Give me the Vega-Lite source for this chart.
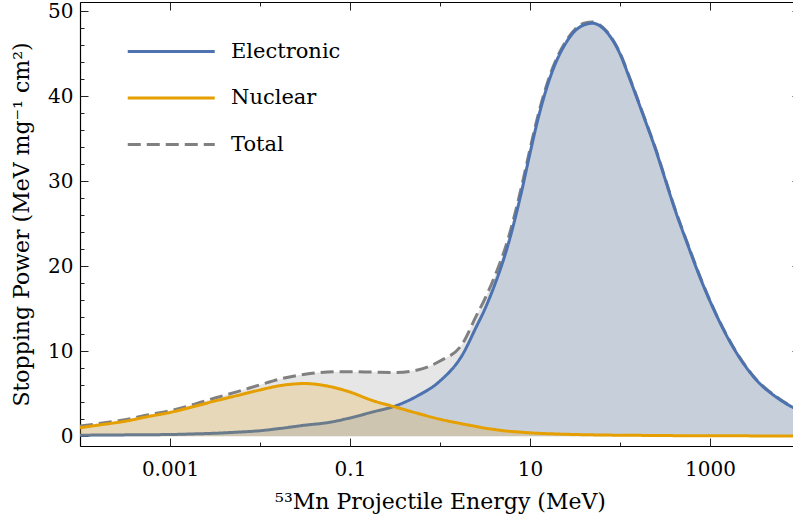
{
  "$schema": "https://vega.github.io/schema/vega-lite/v6.json",
  "autosize": {"type": "none"},
  "padding": {"left": 80, "top": 2, "right": 0, "bottom": 76},
  "width": 720,
  "height": 444,
  "background": "white",
  "config": {
    "view": {"stroke": null},
    "axis": {"grid": false, "labelFont": "DejaVu Serif", "titleFont": "DejaVu Serif", "labelColor": "black", "titleColor": "black", "titleFontWeight": "normal", "labelFlush": false, "labelOverlap": false, "labelBound": false, "domainColor": "black", "domainWidth": 1.2, "tickColor": "#222", "tickWidth": 1},
    "legend": {"orient": "none", "legendX": 46, "legendY": 26, "symbolType": "M-1,0H3", "symbolSize": 1892, "symbolStrokeWidth": 3, "labelFont": "DejaVu Serif", "labelFontSize": 21, "labelColor": "black", "labelOffset": 58, "rowPadding": 12.5, "padding": 0, "title": null}
  },
  "data": {"values": [
    {"E": 0.0001, "Electronic": 0.12, "Nuclear": 1.0, "Total": 1.2},
    {"E": 0.000177828, "Electronic": 0.14, "Nuclear": 1.38, "Total": 1.55},
    {"E": 0.000316228, "Electronic": 0.16, "Nuclear": 1.76, "Total": 1.95},
    {"E": 0.000562341, "Electronic": 0.18, "Nuclear": 2.3, "Total": 2.5},
    {"E": 0.001, "Electronic": 0.2, "Nuclear": 2.8, "Total": 3.0},
    {"E": 0.00177828, "Electronic": 0.27, "Nuclear": 3.45, "Total": 3.7},
    {"E": 0.00316228, "Electronic": 0.35, "Nuclear": 4.15, "Total": 4.5},
    {"E": 0.00562341, "Electronic": 0.48, "Nuclear": 4.8, "Total": 5.25},
    {"E": 0.01, "Electronic": 0.65, "Nuclear": 5.45, "Total": 6.05},
    {"E": 0.0177828, "Electronic": 0.95, "Nuclear": 6.0, "Total": 6.8},
    {"E": 0.0316228, "Electronic": 1.3, "Nuclear": 6.2, "Total": 7.3},
    {"E": 0.0562341, "Electronic": 1.6, "Nuclear": 5.9, "Total": 7.55},
    {"E": 0.1, "Electronic": 2.15, "Nuclear": 5.2, "Total": 7.6},
    {"E": 0.177828, "Electronic": 2.85, "Nuclear": 4.2, "Total": 7.55},
    {"E": 0.316228, "Electronic": 3.55, "Nuclear": 3.45, "Total": 7.5},
    {"E": 0.562341, "Electronic": 4.75, "Nuclear": 2.7, "Total": 7.8},
    {"E": 1, "Electronic": 6.5, "Nuclear": 2.0, "Total": 8.85},
    {"E": 1.77828, "Electronic": 9.6, "Nuclear": 1.45, "Total": 10.9},
    {"E": 2.51189, "Electronic": 12.8, "Nuclear": 1.15, "Total": 14.1},
    {"E": 3.16228, "Electronic": 15.0, "Nuclear": 0.95, "Total": 16.2},
    {"E": 3.98107, "Electronic": 17.6, "Nuclear": 0.8, "Total": 18.6},
    {"E": 5.62341, "Electronic": 22.3, "Nuclear": 0.6, "Total": 23.0},
    {"E": 7.94328, "Electronic": 28.5, "Nuclear": 0.48, "Total": 29.1},
    {"E": 10, "Electronic": 33.3, "Nuclear": 0.4, "Total": 33.8},
    {"E": 12.5893, "Electronic": 37.8, "Nuclear": 0.34, "Total": 38.2},
    {"E": 17.7828, "Electronic": 43.0, "Nuclear": 0.28, "Total": 43.3},
    {"E": 25.1189, "Electronic": 46.3, "Nuclear": 0.23, "Total": 46.5},
    {"E": 31.6228, "Electronic": 47.7, "Nuclear": 0.2, "Total": 47.9},
    {"E": 39.8107, "Electronic": 48.4, "Nuclear": 0.18, "Total": 48.6},
    {"E": 50.1187, "Electronic": 48.6, "Nuclear": 0.16, "Total": 48.75},
    {"E": 63.0957, "Electronic": 48.1, "Nuclear": 0.14, "Total": 48.2},
    {"E": 79.4328, "Electronic": 46.9, "Nuclear": 0.13, "Total": 47.0},
    {"E": 100, "Electronic": 45.0, "Nuclear": 0.12, "Total": 45.1},
    {"E": 125.893, "Electronic": 42.3, "Nuclear": 0.11, "Total": 42.4},
    {"E": 177.828, "Electronic": 38.0, "Nuclear": 0.1, "Total": 38.1},
    {"E": 251.189, "Electronic": 33.6, "Nuclear": 0.09, "Total": 33.7},
    {"E": 316.228, "Electronic": 30.3, "Nuclear": 0.08, "Total": 30.4},
    {"E": 398.107, "Electronic": 27.0, "Nuclear": 0.07, "Total": 27.1},
    {"E": 562.341, "Electronic": 22.6, "Nuclear": 0.06, "Total": 22.7},
    {"E": 794.328, "Electronic": 18.4, "Nuclear": 0.06, "Total": 18.5},
    {"E": 1000, "Electronic": 15.9, "Nuclear": 0.05, "Total": 15.95},
    {"E": 1778.28, "Electronic": 10.6, "Nuclear": 0.05, "Total": 10.65},
    {"E": 3162.28, "Electronic": 6.8, "Nuclear": 0.04, "Total": 6.85},
    {"E": 5623.41, "Electronic": 4.5, "Nuclear": 0.04, "Total": 4.55},
    {"E": 8317.64, "Electronic": 3.4, "Nuclear": 0.03, "Total": 3.43},
    {"E": 10000, "Electronic": 3.0, "Nuclear": 0.03, "Total": 3.03}
  ]},
  "resolve": {"axis": {"x": "independent", "y": "independent"}},
  "layer": [
    {
      "mark": {"type": "area", "color": "#808080", "opacity": 0.2, "interpolate": "monotone", "clip": true},
      "encoding": {
        "x": {"field": "E", "type": "quantitative", "scale": {"type": "log", "domain": [0.0001, 10000], "nice": false},
          "axis": {"orient": "bottom", "values": [0.001, 0.1, 10, 1000], "format": "~g", "ticks": false, "domain": true, "labelFontSize": 20, "labelPadding": 13, "title": "⁵³Mn Projectile Energy (MeV)", "titleFontSize": 22, "titlePadding": 12}},
        "y": {"field": "Total", "type": "quantitative", "scale": {"domain": [-1.15, 51.1], "nice": false, "zero": false},
          "axis": {"orient": "left", "values": [0, 10, 20, 30, 40, 50], "ticks": false, "domain": true, "labelFontSize": 20, "labelPadding": 7, "title": "Stopping Power (MeV mg⁻¹ cm²)", "titleFontSize": 22, "titlePadding": 14}}
      }
    },
    {
      "mark": {"type": "line", "strokeWidth": 3, "interpolate": "monotone", "clip": true},
      "encoding": {
        "x": {"field": "E", "type": "quantitative", "axis": null},
        "y": {"field": "Total", "type": "quantitative", "axis": null},
        "color": {"datum": "Total", "type": "nominal", "scale": {"domain": ["Electronic", "Nuclear", "Total"], "range": ["#4C72B0", "#E69F00", "#808080"]}},
        "strokeDash": {"datum": "Total", "type": "nominal", "scale": {"domain": ["Electronic", "Nuclear", "Total"], "range": [[1, 0], [1, 0], [13, 6]]}}
      }
    },
    {
      "mark": {"type": "area", "color": "#4C72B0", "opacity": 0.2, "interpolate": "monotone", "clip": true},
      "encoding": {
        "x": {"field": "E", "type": "quantitative", "axis": {"orient": "bottom", "values": [0.001, 0.1, 10, 1000], "labels": false, "domain": false, "ticks": true, "tickSize": -8, "title": null}},
        "y": {"field": "Electronic", "type": "quantitative", "axis": {"orient": "left", "values": [0, 10, 20, 30, 40, 50], "labels": false, "domain": false, "ticks": true, "tickSize": -8, "title": null}}
      }
    },
    {
      "mark": {"type": "line", "strokeWidth": 3, "interpolate": "monotone", "clip": true},
      "encoding": {
        "x": {"field": "E", "type": "quantitative", "axis": {"orient": "bottom", "values": [0.0001, 0.01, 1, 100, 10000], "labels": false, "domain": false, "ticks": true, "tickSize": -4, "title": null}},
        "y": {"field": "Electronic", "type": "quantitative", "axis": {"orient": "left", "values": [2, 4, 6, 8, 12, 14, 16, 18, 22, 24, 26, 28, 32, 34, 36, 38, 42, 44, 46, 48], "labels": false, "domain": false, "ticks": true, "tickSize": -4, "title": null}},
        "color": {"datum": "Electronic", "type": "nominal"},
        "strokeDash": {"datum": "Electronic", "type": "nominal"}
      }
    },
    {
      "mark": {"type": "area", "color": "#E69F00", "opacity": 0.2, "interpolate": "monotone", "clip": true},
      "encoding": {
        "x": {"field": "E", "type": "quantitative", "axis": {"orient": "top", "values": [0.001, 0.1, 10, 1000], "labels": false, "domain": true, "ticks": true, "tickSize": -8, "title": null}},
        "y": {"field": "Nuclear", "type": "quantitative", "axis": {"orient": "right", "values": [0, 10, 20, 30, 40, 50], "labels": false, "domain": true, "ticks": true, "tickSize": -8, "title": null}}
      }
    },
    {
      "mark": {"type": "line", "strokeWidth": 3, "interpolate": "monotone", "clip": true},
      "encoding": {
        "x": {"field": "E", "type": "quantitative", "axis": {"orient": "top", "values": [0.0001, 0.01, 1, 100, 10000], "labels": false, "domain": false, "ticks": true, "tickSize": -4, "title": null}},
        "y": {"field": "Nuclear", "type": "quantitative", "axis": {"orient": "right", "values": [2, 4, 6, 8, 12, 14, 16, 18, 22, 24, 26, 28, 32, 34, 36, 38, 42, 44, 46, 48], "labels": false, "domain": false, "ticks": true, "tickSize": -4, "title": null}},
        "color": {"datum": "Nuclear", "type": "nominal"},
        "strokeDash": {"datum": "Nuclear", "type": "nominal"}
      }
    }
  ]
}
